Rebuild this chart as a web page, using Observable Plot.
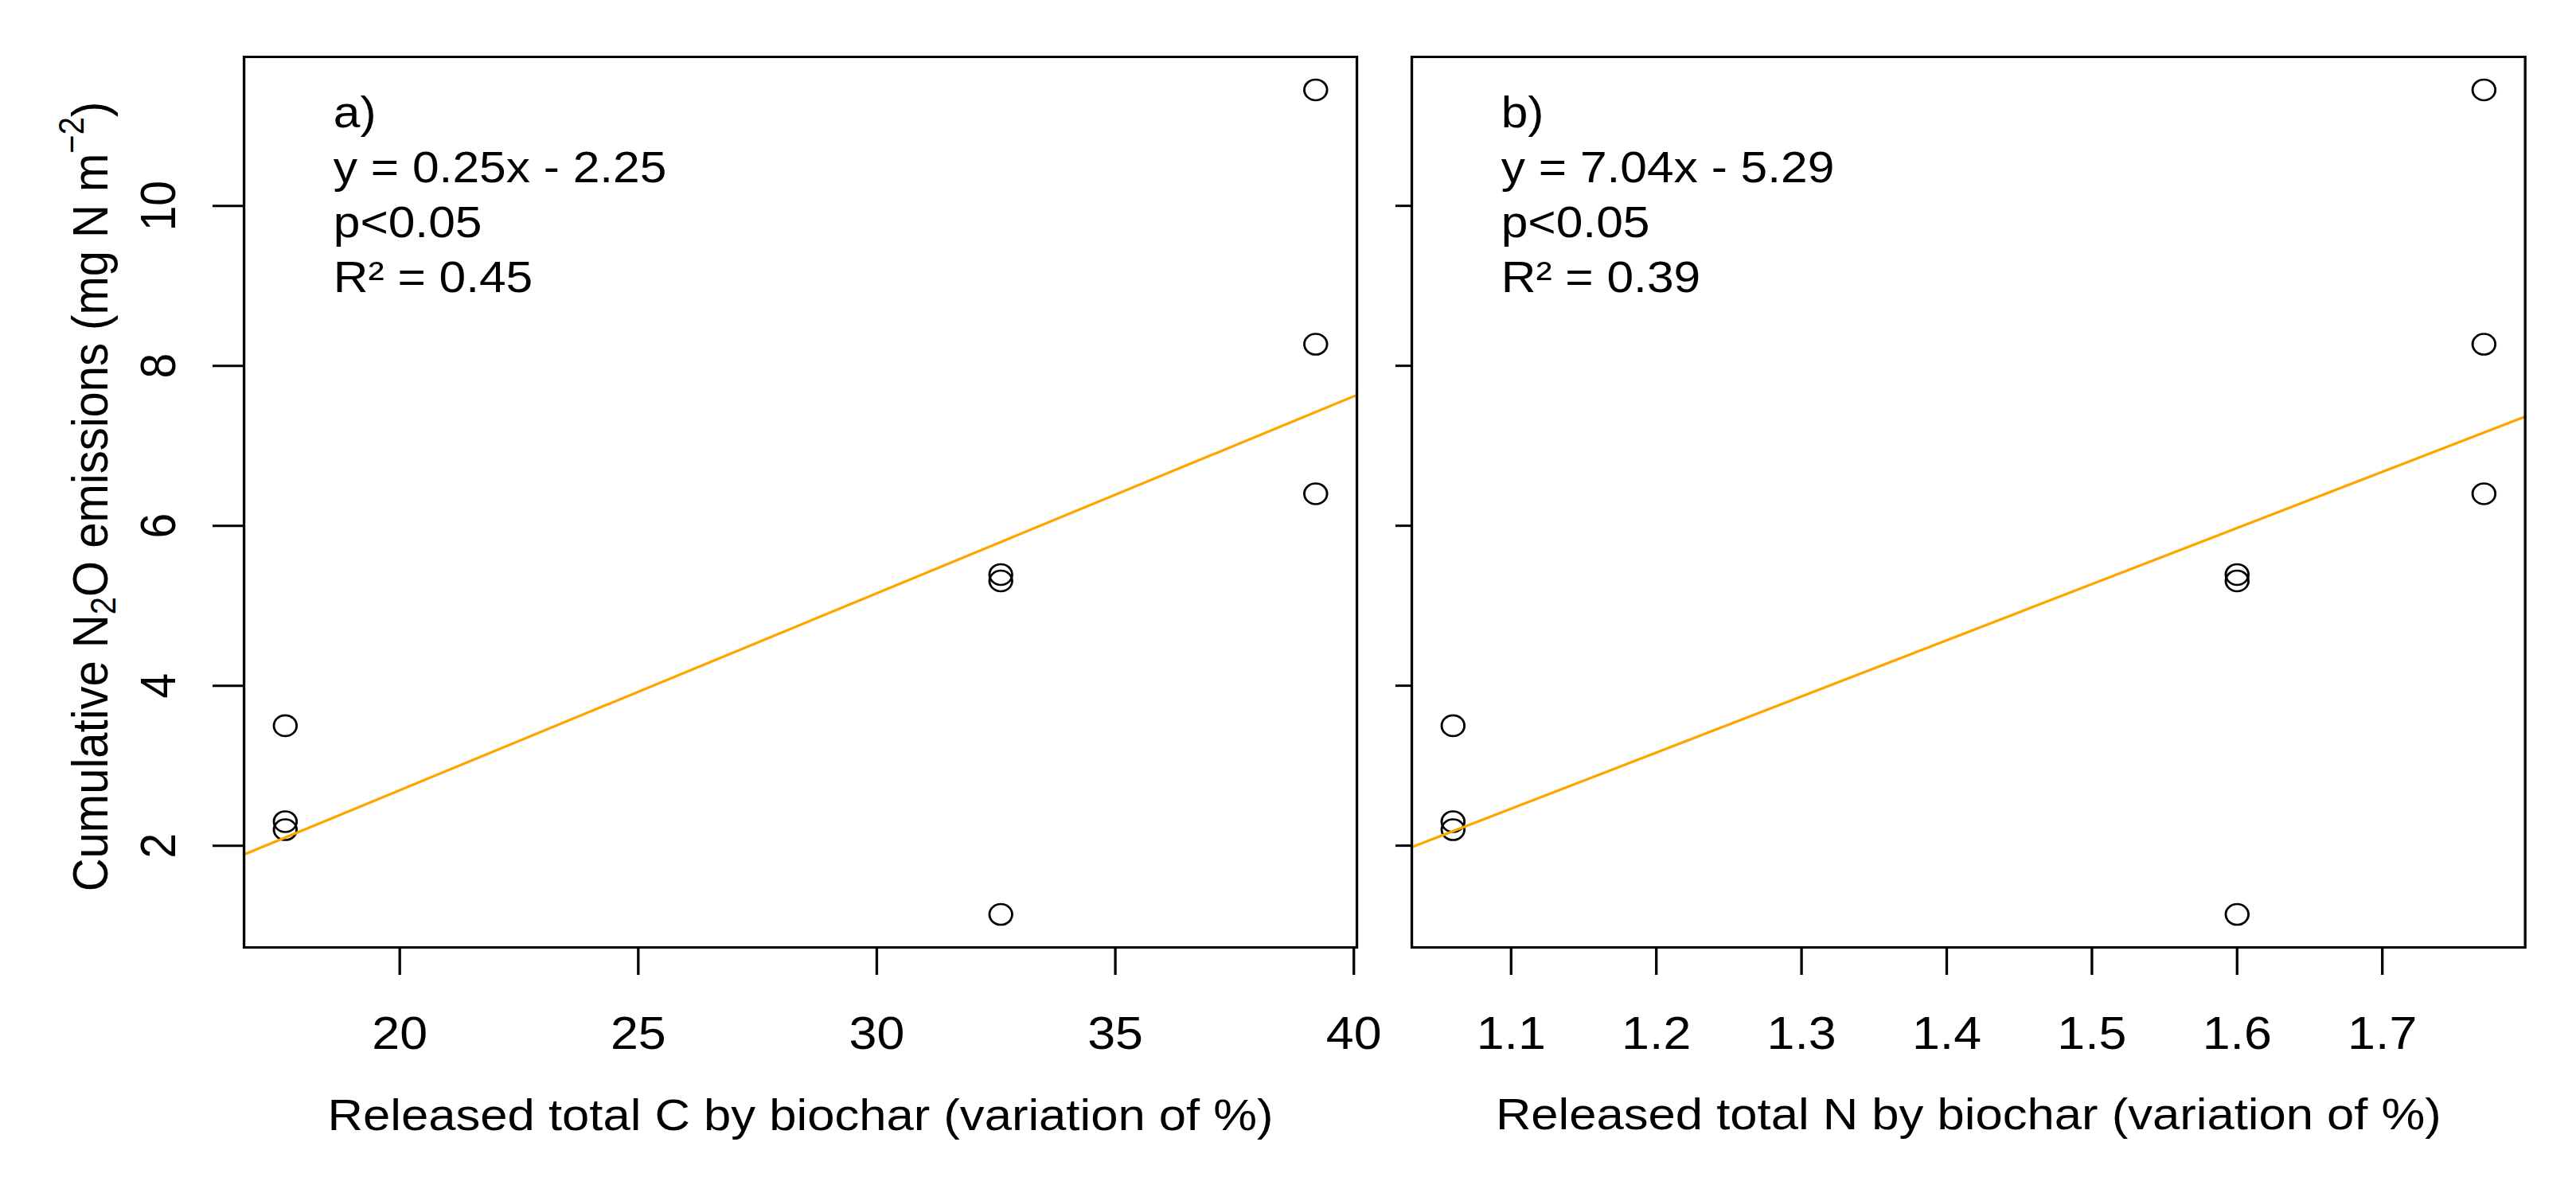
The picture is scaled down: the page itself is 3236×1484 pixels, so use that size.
<!DOCTYPE html>
<html>
<head>
<meta charset="utf-8">
<script src="https://cdn.jsdelivr.net/npm/d3@7"></script>
<script src="https://cdn.jsdelivr.net/npm/@observablehq/plot@0.6"></script>
<style>
  html, body { margin: 0; padding: 0; background: #ffffff; }
  #fig { position: relative; width: 2941.8px; height: 1484px; transform: scaleX(1.1); transform-origin: 0 0; }
  #fig svg { position: absolute; top: 0; }
</style>
</head>
<body>
<div id="fig"></div>
<script>
// ---- data ----
const releasedC = [17.6, 17.6, 17.6, 32.6, 32.6, 32.6, 39.2, 39.2, 39.2];
const releasedN = [1.06, 1.06, 1.06, 1.60, 1.60, 1.60, 1.77, 1.77, 1.77];
const n2o       = [3.50, 2.30, 2.20, 5.39, 5.31, 1.14, 11.45, 8.27, 6.40];

const yTicks  = [2, 4, 6, 8, 10];
const xTicksC = [20, 25, 30, 35, 40];
const xTicksN = [1.1, 1.2, 1.3, 1.4, 1.5, 1.6, 1.7];

const annotA = ["a)", "y = 0.25x - 2.25", "p<0.05", "R² = 0.45"];
const annotB = ["b)", "y = 7.04x - 5.29", "p<0.05", "R² = 0.39"];
const xLabelC = "Released total C by biochar (variation of %)";
const xLabelN = "Released total N by biochar (variation of %)";
const yLabelParts = [["Cumulative N", ""], ["2", "sub"], ["O emissions (mg N m", ""], ["\u22122", "sup"], [")", ""]];
const yLabel = yLabelParts.map(p => p[0]).join("");

// ---- helpers ----
function rDomain(v) { // R-style 4% axis extension
  const [a, b] = d3.extent(v);
  const p = 0.04 * (b - a);
  return [a - p, b + p];
}
function fit(xs, ys) { // least squares
  const mx = d3.mean(xs), my = d3.mean(ys);
  const b = d3.sum(xs, (x, i) => (x - mx) * (ys[i] - my)) / d3.sum(xs, x => (x - mx) ** 2);
  return { a: my - b * mx, b };
}
const plain = d => String(d);

const FONT = "'Liberation Sans', Arial, Helvetica, sans-serif";

function panel({ xs, xTicks, xLabel, annot, width, marginLeft, marginRight, yAxis, extra = [] }) {
  const data = xs.map((x, i) => ({ x, y: n2o[i] }));
  const xd = rDomain(xs), yd = rDomain(n2o);
  const f = fit(xs, n2o);
  const lineData = xd.map(x => ({ x, y: f.a + f.b * x }));
  return Plot.plot({
    width, height: 1484,
    marginLeft, marginRight, marginTop: 71, marginBottom: 294,
    style: { fontFamily: FONT, fontSize: "57px", color: "black", background: "white", overflow: "visible" },
    x: { domain: xd, axis: null },
    y: { domain: yd, axis: null },
    marks: [
      Plot.dot(data, { x: "x", y: "y", r: 13, stroke: "black", strokeWidth: 2.6, fill: "none" }),
      Plot.line(lineData, { x: "x", y: "y", stroke: "#FFA500", strokeWidth: 3.2 }),
      Plot.frame({ stroke: "black", strokeWidth: 3 }),
      Plot.axisX(xTicks, { tickSize: 35, tickPadding: 51.8, strokeWidth: 3, label: null, fontSize: 57, fill: "black", tickFormat: plain }),
      Plot.axisY(yTicks, yAxis),
      Plot.text([annot.join("\n")], { text: d => d, frameAnchor: "top-left", dx: 102, dy: 39.4, lineAnchor: "top", lineHeight: 1.253, textAnchor: "start", fontSize: 55, fill: "black" }),
      Plot.text([xLabel], { text: d => d, frameAnchor: "bottom", dy: 229, lineAnchor: "bottom", textAnchor: "middle", fontSize: 56, fill: "black" }),
      ...extra
    ]
  });
}

const svgA = panel({
  xs: releasedC, xTicks: xTicksC, xLabel: xLabelC, annot: annotA,
  width: 1580, marginLeft: 278.2, marginRight: 30.9,
  yAxis: { tickSize: 35.5, tickPadding: 43.6, tickRotate: -90, strokeWidth: 3, label: null, fontSize: 57, fill: "black", tickFormat: plain },
  extra: [
    Plot.text([yLabel], { text: d => d, frameAnchor: "left", dx: -174.9, dy: -7, rotate: -90, lineAnchor: "middle", textAnchor: "middle", fontSize: 58, fill: "black" })
  ]
});
const svgB = panel({
  xs: releasedN, xTicks: xTicksN, xLabel: xLabelN, annot: annotB,
  width: 1361.8, marginLeft: 31.8, marginRight: 58.5,
  yAxis: { tickSize: 18.2, tickFormat: () => "", strokeWidth: 3, label: null }
});

// rich text for the y label (subscript / superscript)
const t = Array.from(svgA.querySelectorAll("text")).find(n => n.textContent === yLabel);
if (t) {
  t.textContent = "";
  let shift = 0;
  for (const [s, kind] of yLabelParts) {
    const ts = document.createElementNS("http://www.w3.org/2000/svg", "tspan");
    const target = kind === "sub" ? 9 : kind === "sup" ? -27 : 0;
    const dy = target - shift;
    if (dy) ts.setAttribute("dy", dy);
    shift = target;
    if (kind) ts.setAttribute("font-size", 40);
    ts.textContent = s;
    t.appendChild(ts);
  }
}

svgA.style.left = "0px";
svgB.style.left = "1580px";
document.getElementById("fig").append(svgA, svgB);
</script>
</body>
</html>
